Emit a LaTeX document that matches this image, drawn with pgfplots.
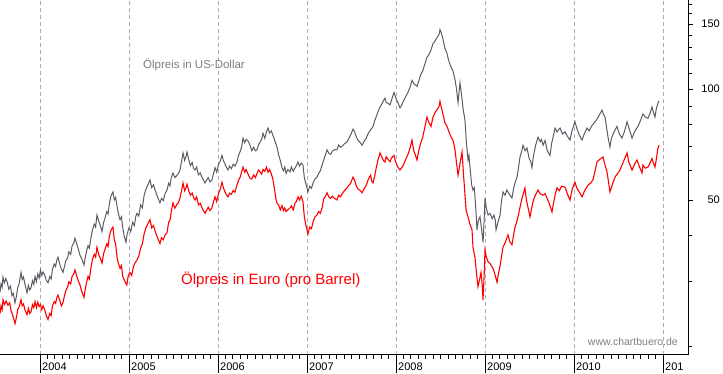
\documentclass[border=0pt]{standalone}
\usepackage{pgfplots}
\usepackage{pgfplotstable}
\pgfplotsset{compat=1.18}
\usepackage{fontspec}
\setmainfont{Liberation Sans}
\definecolor{usdgray}{RGB}{95,90,100}
\definecolor{gridlav}{RGB}{180,168,192}
\definecolor{txtgray}{RGB}{125,125,135}
\pgfplotstableread{
year price
2003.551 28.1
2003.562 29.6
2003.575 29.0
2003.584 30.9
2003.600 29.8
2003.615 30.6
2003.632 29.9
2003.650 28.6
2003.668 29.2
2003.685 27.5
2003.700 27.9
2003.719 26.3
2003.735 27.4
2003.750 28.9
2003.765 29.6
2003.787 31.8
2003.800 30.4
2003.815 30.9
2003.830 29.6
2003.854 28.0
2003.870 29.3
2003.885 28.5
2003.900 28.9
2003.915 30.2
2003.930 29.5
2003.944 31.0
2003.960 30.0
2003.975 31.5
2003.990 30.7
2004.005 32.3
2004.020 31.2
2004.035 31.9
2004.050 31.4
2004.070 30.3
2004.090 29.8
2004.110 31.0
2004.125 30.5
2004.140 32.4
2004.160 33.5
2004.175 33.0
2004.190 34.4
2004.202 35.0
2004.220 33.6
2004.240 32.5
2004.258 31.8
2004.275 33.0
2004.290 34.2
2004.310 34.8
2004.325 36.2
2004.345 35.6
2004.360 37.5
2004.380 38.2
2004.393 39.4
2004.410 38.2
2004.430 36.8
2004.449 35.4
2004.470 34.6
2004.494 33.3
2004.510 35.0
2004.525 36.5
2004.540 37.6
2004.555 37.0
2004.570 39.2
2004.590 41.5
2004.610 43.0
2004.625 42.2
2004.640 45.5
2004.660 43.8
2004.680 42.5
2004.697 41.0
2004.715 43.5
2004.735 45.0
2004.750 46.5
2004.765 45.8
2004.780 49.0
2004.800 51.5
2004.820 52.6
2004.835 50.0
2004.850 50.8
2004.865 48.2
2004.880 46.0
2004.899 44.2
2004.915 45.0
2004.930 42.0
2004.945 40.0
2004.966 38.4
2004.980 40.5
2005.000 42.0
2005.020 41.0
2005.040 43.5
2005.060 42.6
2005.075 45.0
2005.090 46.0
2005.110 45.2
2005.130 48.5
2005.150 47.6
2005.170 51.5
2005.190 53.5
2005.210 54.8
2005.236 56.7
2005.255 54.0
2005.275 55.0
2005.295 53.0
2005.320 51.0
2005.348 49.1
2005.365 50.5
2005.385 49.8
2005.405 52.0
2005.427 53.2
2005.445 55.5
2005.460 54.6
2005.475 57.5
2005.494 59.2
2005.515 57.5
2005.535 58.2
2005.555 59.0
2005.573 60.3
2005.590 63.5
2005.607 67.1
2005.625 64.0
2005.640 65.5
2005.652 67.5
2005.670 64.5
2005.690 62.0
2005.710 63.2
2005.725 61.0
2005.742 60.3
2005.760 61.5
2005.780 58.5
2005.800 59.2
2005.815 58.0
2005.830 57.0
2005.854 55.6
2005.870 56.5
2005.890 57.5
2005.910 56.0
2005.930 56.5
2005.950 59.0
2005.966 61.2
2005.985 59.5
2006.005 62.5
2006.025 63.8
2006.045 66.1
2006.060 64.0
2006.080 62.5
2006.095 61.4
2006.112 60.3
2006.130 61.8
2006.150 60.8
2006.170 62.5
2006.190 61.8
2006.213 63.4
2006.230 66.0
2006.250 67.8
2006.265 69.5
2006.281 73.6
2006.300 71.5
2006.315 73.0
2006.335 72.5
2006.360 70.4
2006.380 68.0
2006.400 69.5
2006.420 68.0
2006.438 68.4
2006.455 70.5
2006.475 72.0
2006.490 73.0
2006.506 75.9
2006.525 73.5
2006.545 76.5
2006.562 78.4
2006.580 76.0
2006.600 77.0
2006.615 75.0
2006.630 73.5
2006.650 71.0
2006.663 69.6
2006.680 66.5
2006.700 64.0
2006.719 61.2
2006.735 60.0
2006.750 61.5
2006.765 59.0
2006.785 60.5
2006.809 59.6
2006.825 61.5
2006.845 59.8
2006.865 61.0
2006.880 62.0
2006.899 63.4
2006.915 61.8
2006.935 63.0
2006.955 62.2
2006.970 57.5
2006.990 55.0
2007.011 52.6
2007.030 54.5
2007.050 53.8
2007.070 55.8
2007.090 57.0
2007.112 57.7
2007.130 59.0
2007.150 60.0
2007.169 62.2
2007.190 64.5
2007.205 66.0
2007.225 68.4
2007.245 67.0
2007.265 66.5
2007.285 67.8
2007.310 68.5
2007.337 68.4
2007.355 70.5
2007.375 69.5
2007.400 70.2
2007.420 71.0
2007.449 71.8
2007.470 73.5
2007.490 75.0
2007.517 77.9
2007.535 76.5
2007.555 74.0
2007.575 72.5
2007.600 71.5
2007.618 70.4
2007.640 72.0
2007.665 73.5
2007.690 76.0
2007.715 77.5
2007.742 79.2
2007.760 82.0
2007.780 84.5
2007.800 87.0
2007.820 89.4
2007.840 91.0
2007.858 93.0
2007.876 94.5
2007.890 92.0
2007.910 91.5
2007.933 90.6
2007.950 93.5
2007.978 98.0
2007.995 95.0
2008.020 92.0
2008.045 88.9
2008.060 90.0
2008.080 92.5
2008.110 95.5
2008.135 98.0
2008.160 101.5
2008.180 105.6
2008.200 103.5
2008.220 102.5
2008.236 101.6
2008.255 105.0
2008.275 109.0
2008.300 112.0
2008.320 116.0
2008.348 122.0
2008.370 124.0
2008.390 127.0
2008.416 133.0
2008.430 134.0
2008.450 136.5
2008.470 139.0
2008.485 141.0
2008.494 145.0
2008.510 142.0
2008.530 136.0
2008.550 129.0
2008.573 125.0
2008.590 120.0
2008.610 116.0
2008.640 112.0
2008.663 106.0
2008.680 100.0
2008.697 91.8
2008.708 98.0
2008.719 104.0
2008.735 97.0
2008.755 88.0
2008.775 82.4
2008.790 72.0
2008.809 64.2
2008.820 66.0
2008.835 60.0
2008.850 55.0
2008.865 53.2
2008.880 54.0
2008.895 48.0
2008.910 41.5
2008.925 44.0
2008.944 45.0
2008.960 42.0
2008.978 38.4
2008.990 44.0
2009.000 50.6
2009.015 47.5
2009.035 45.5
2009.056 46.0
2009.080 44.5
2009.100 45.5
2009.115 44.2
2009.124 41.5
2009.145 43.5
2009.169 45.5
2009.185 49.5
2009.202 52.6
2009.225 51.5
2009.245 53.2
2009.270 52.0
2009.303 50.6
2009.320 53.5
2009.337 55.6
2009.360 57.7
2009.380 62.0
2009.393 65.4
2009.410 67.5
2009.427 70.4
2009.450 68.0
2009.472 69.2
2009.495 65.0
2009.515 63.5
2009.528 61.2
2009.545 66.0
2009.570 70.5
2009.596 74.1
2009.620 72.0
2009.635 73.0
2009.652 70.4
2009.675 72.5
2009.700 68.0
2009.730 66.1
2009.750 71.5
2009.770 75.0
2009.787 78.4
2009.810 76.5
2009.825 77.5
2009.843 78.4
2009.870 75.5
2009.899 76.6
2009.925 74.5
2009.955 72.7
2009.980 77.5
2010.011 81.5
2010.030 78.5
2010.060 75.0
2010.090 72.7
2010.115 75.5
2010.146 78.4
2010.170 77.0
2010.200 79.5
2010.236 81.5
2010.260 83.0
2010.290 85.5
2010.315 87.7
2010.330 85.5
2010.348 84.0
2010.365 79.0
2010.382 74.1
2010.404 69.6
2010.420 73.5
2010.450 76.5
2010.483 79.2
2010.510 75.5
2010.539 73.6
2010.565 76.5
2010.596 81.5
2010.620 78.0
2010.652 73.6
2010.680 76.5
2010.700 78.0
2010.719 79.2
2010.750 82.5
2010.775 85.6
2010.800 84.0
2010.831 83.3
2010.855 86.0
2010.876 89.4
2010.892 86.5
2010.910 84.0
2010.925 88.5
2010.940 91.0
2010.955 93.0
}\usd
\pgfplotstableread{
year price
2003.551 24.6
2003.562 25.8
2003.575 25.2
2003.584 26.8
2003.600 26.0
2003.620 26.6
2003.640 25.9
2003.660 26.3
2003.675 25.0
2003.690 24.5
2003.705 23.8
2003.719 23.1
2003.735 24.0
2003.750 25.2
2003.765 25.6
2003.787 26.8
2003.800 25.8
2003.815 26.1
2003.830 25.2
2003.854 24.4
2003.870 25.4
2003.885 24.6
2003.900 24.9
2003.915 26.0
2003.930 25.5
2003.944 26.5
2003.960 25.5
2003.975 26.4
2003.990 25.7
2004.005 26.0
2004.020 25.2
2004.035 25.8
2004.050 25.3
2004.070 24.3
2004.090 23.7
2004.110 24.6
2004.125 24.3
2004.140 25.8
2004.160 26.5
2004.175 26.2
2004.190 27.2
2004.202 27.6
2004.220 26.8
2004.240 25.8
2004.258 26.3
2004.275 27.5
2004.290 28.4
2004.310 29.0
2004.325 30.0
2004.345 29.6
2004.360 31.0
2004.380 31.5
2004.393 32.3
2004.410 31.2
2004.430 30.2
2004.449 29.4
2004.470 28.2
2004.494 27.2
2004.510 28.8
2004.525 30.0
2004.540 31.0
2004.555 30.5
2004.570 32.5
2004.590 34.5
2004.610 35.6
2004.625 35.0
2004.640 37.2
2004.660 35.5
2004.680 34.6
2004.697 33.7
2004.715 35.8
2004.735 37.0
2004.750 38.0
2004.765 37.4
2004.780 40.0
2004.800 41.5
2004.820 42.2
2004.835 39.0
2004.850 38.0
2004.865 35.0
2004.880 33.7
2004.900 32.6
2004.915 33.2
2004.930 31.0
2004.950 30.2
2004.976 29.4
2004.990 31.0
2005.010 31.8
2005.030 31.2
2005.050 33.0
2005.070 33.8
2005.090 34.4
2005.110 35.2
2005.130 37.0
2005.150 38.0
2005.170 40.5
2005.190 42.0
2005.210 43.0
2005.236 44.2
2005.255 42.0
2005.275 42.6
2005.295 41.0
2005.320 39.5
2005.348 38.1
2005.365 39.5
2005.385 39.0
2005.405 40.2
2005.427 40.7
2005.445 43.5
2005.460 44.0
2005.475 46.5
2005.494 49.1
2005.515 47.5
2005.535 48.5
2005.555 49.2
2005.573 50.6
2005.590 52.8
2005.607 55.6
2005.625 53.0
2005.640 54.0
2005.652 55.2
2005.670 53.0
2005.690 51.5
2005.710 52.2
2005.725 50.8
2005.742 50.0
2005.760 51.0
2005.780 48.5
2005.800 49.0
2005.815 48.0
2005.830 47.0
2005.854 46.0
2005.870 46.8
2005.890 47.8
2005.910 46.8
2005.930 47.5
2005.950 49.5
2005.966 51.0
2005.985 49.5
2006.005 52.0
2006.025 53.5
2006.045 55.9
2006.060 54.0
2006.080 52.5
2006.095 51.6
2006.112 51.0
2006.130 52.2
2006.150 51.8
2006.170 53.0
2006.190 52.5
2006.213 54.9
2006.230 56.5
2006.250 57.8
2006.265 59.5
2006.281 61.4
2006.300 59.5
2006.315 60.5
2006.335 59.0
2006.360 57.2
2006.380 57.0
2006.400 58.5
2006.420 57.5
2006.438 59.0
2006.455 60.3
2006.475 59.5
2006.490 58.8
2006.506 60.5
2006.525 59.8
2006.545 61.4
2006.562 59.5
2006.580 60.5
2006.600 58.8
2006.618 56.7
2006.635 53.5
2006.650 50.5
2006.663 49.0
2006.680 48.5
2006.700 47.0
2006.719 48.3
2006.735 46.8
2006.750 47.6
2006.765 46.5
2006.785 47.0
2006.809 47.6
2006.825 48.2
2006.845 47.0
2006.865 49.0
2006.880 49.5
2006.899 51.0
2006.915 50.0
2006.935 51.2
2006.955 49.4
2006.970 45.0
2006.990 42.5
2007.011 40.4
2007.030 42.2
2007.050 41.8
2007.070 43.8
2007.090 45.0
2007.112 45.5
2007.130 46.5
2007.150 46.0
2007.169 47.6
2007.190 50.5
2007.205 51.0
2007.225 52.3
2007.245 51.0
2007.265 50.5
2007.285 51.2
2007.310 50.5
2007.337 50.0
2007.355 51.5
2007.375 51.0
2007.400 52.2
2007.420 53.0
2007.449 53.9
2007.470 54.8
2007.490 55.5
2007.517 57.7
2007.535 56.5
2007.555 54.5
2007.575 53.5
2007.600 53.0
2007.618 52.3
2007.640 53.5
2007.665 54.8
2007.690 57.0
2007.715 58.4
2007.730 56.0
2007.742 55.6
2007.760 58.0
2007.780 61.5
2007.800 64.5
2007.820 67.1
2007.840 65.5
2007.858 64.0
2007.876 63.4
2007.890 65.5
2007.910 64.5
2007.933 63.5
2007.950 65.0
2007.978 66.1
2007.995 63.5
2008.020 61.5
2008.045 60.3
2008.060 61.0
2008.080 62.0
2008.110 64.5
2008.135 66.5
2008.160 69.5
2008.180 72.7
2008.200 68.0
2008.220 66.0
2008.236 64.2
2008.255 68.0
2008.275 71.0
2008.300 74.0
2008.320 78.0
2008.348 84.0
2008.370 81.0
2008.393 79.2
2008.416 84.0
2008.440 86.5
2008.470 88.5
2008.485 90.0
2008.494 92.6
2008.510 89.0
2008.530 85.0
2008.550 81.0
2008.573 79.2
2008.600 76.0
2008.620 74.0
2008.640 72.7
2008.663 68.4
2008.680 63.0
2008.697 58.4
2008.720 63.0
2008.742 67.5
2008.760 58.0
2008.787 47.0
2008.809 45.0
2008.830 43.0
2008.854 41.5
2008.865 37.2
2008.888 34.8
2008.905 31.5
2008.921 29.1
2008.940 30.5
2008.955 31.8
2008.968 29.5
2008.978 26.8
2008.990 31.0
2009.000 36.6
2009.015 35.0
2009.034 34.0
2009.060 33.5
2009.090 32.6
2009.110 31.5
2009.135 29.9
2009.150 31.5
2009.169 33.1
2009.185 35.0
2009.202 37.2
2009.230 38.5
2009.258 40.2
2009.280 38.5
2009.303 37.8
2009.320 40.0
2009.337 42.2
2009.355 43.5
2009.371 45.0
2009.395 48.0
2009.416 50.6
2009.435 52.5
2009.449 53.9
2009.465 50.0
2009.485 47.5
2009.506 45.0
2009.520 47.0
2009.539 49.4
2009.565 51.5
2009.596 53.2
2009.620 52.0
2009.650 51.5
2009.675 52.0
2009.697 50.6
2009.720 49.0
2009.753 46.4
2009.770 49.0
2009.790 52.0
2009.809 53.9
2009.835 53.0
2009.860 54.5
2009.899 54.2
2009.925 52.0
2009.955 50.0
2009.980 53.5
2010.011 55.9
2010.030 54.0
2010.060 52.5
2010.090 51.0
2010.120 53.0
2010.157 54.9
2010.185 55.5
2010.213 56.7
2010.240 60.5
2010.258 63.4
2010.290 64.5
2010.326 65.4
2010.350 62.0
2010.371 59.6
2010.390 55.5
2010.404 52.6
2010.430 55.0
2010.461 57.7
2010.490 59.0
2010.517 60.3
2010.555 63.5
2010.596 67.1
2010.615 63.5
2010.652 60.3
2010.680 62.5
2010.708 64.2
2010.735 61.5
2010.764 59.2
2010.775 62.2
2010.800 61.0
2010.831 61.4
2010.855 63.0
2010.876 64.8
2010.892 63.0
2010.910 61.4
2010.925 64.5
2010.940 68.5
2010.955 70.5
}\eur
\begin{document}
\begin{tikzpicture}
\useasboundingbox (0,0) rectangle (723pt,373pt);
\begin{axis}[
  at={(-1pt,18pt)}, anchor=south west,
  scale only axis, width=689pt, height=355pt,
  xmin=2003.5393, xmax=2011.2809,
  ymode=log, ymin=18.98, ymax=174.5,
  axis line style={black, line width=1pt},
  xtick={2004,2005,2006,2007,2008,2009,2010,2011},
  xticklabels={2004,2005,2006,2007,2008,2009,2010,201},
  minor x tick num=11,
  ytick={50,100,150}, yticklabels={50,100,150},
  minor ytick={20,30,40,60,70,80,90,110,120,130,140,160,170},
  xtick pos=bottom, ytick pos=right,
  tick align=outside,
  major tick length=5pt, minor tick length=4pt,
  tick style={black, line width=0.8pt},
  xmajorgrids,
  major x grid style={gridlav, dash pattern=on 4pt off 3pt, line width=1pt},
  ticklabel style={font=\fontsize{11}{11}\selectfont},
  xticklabel style={anchor=north west, inner sep=0pt, xshift=2pt, yshift=-3pt},
  yticklabel style={anchor=east, inner sep=0pt, xshift=27pt},
  clip=false,
]
\addplot[usdgray, line width=1pt] table[x=year, y=price] {\usd};
\addplot[red, line width=1.1pt] table[x=year, y=price] {\eur};
\draw[black, line width=0.8pt] (axis cs:2004,18.98) -- ++(0pt,-18pt);
\draw[black, line width=0.8pt] (axis cs:2005,18.98) -- ++(0pt,-18pt);
\draw[black, line width=0.8pt] (axis cs:2006,18.98) -- ++(0pt,-18pt);
\draw[black, line width=0.8pt] (axis cs:2007,18.98) -- ++(0pt,-18pt);
\draw[black, line width=0.8pt] (axis cs:2008,18.98) -- ++(0pt,-18pt);
\draw[black, line width=0.8pt] (axis cs:2009,18.98) -- ++(0pt,-18pt);
\draw[black, line width=0.8pt] (axis cs:2010,18.98) -- ++(0pt,-18pt);
\draw[black, line width=0.8pt] (axis cs:2011,18.98) -- ++(0pt,-18pt);
\end{axis}
\node[anchor=west, text=txtgray, font=\fontsize{11.5}{12}\selectfont, inner sep=0pt] at (143pt,308pt) {Ölpreis in US-Dollar};
\node[anchor=west, text=red, font=\fontsize{15}{16}\selectfont, inner sep=0pt] at (181pt,93pt) {Ölpreis in Euro (pro Barrel)};
\node[anchor=east, text=gray, font=\fontsize{10.5}{11}\selectfont, inner sep=0pt] at (678pt,31pt) {www.chartbuero.de};
\end{tikzpicture}
\end{document}
